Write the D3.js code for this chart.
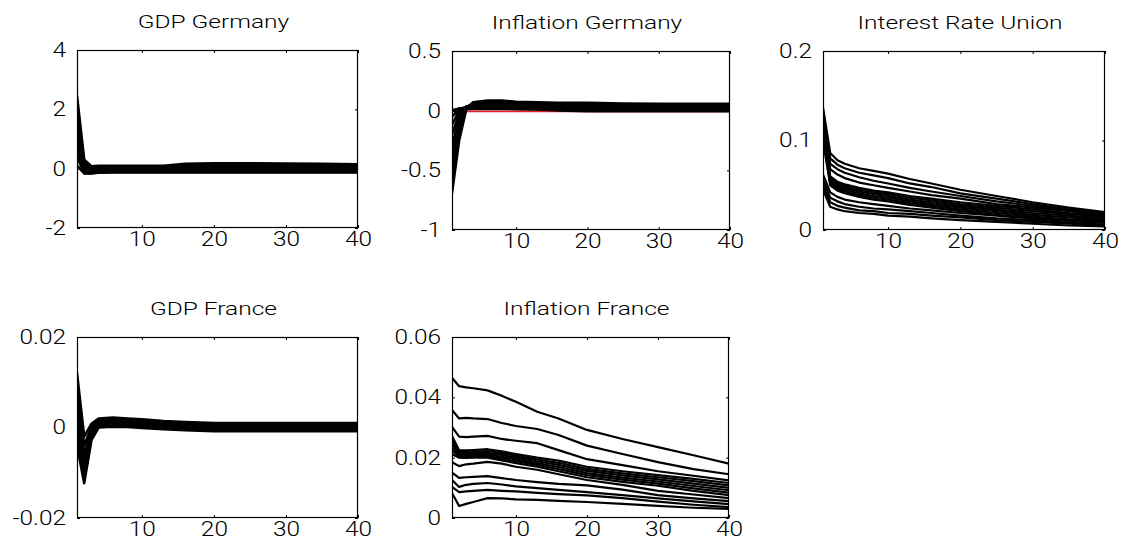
<!DOCTYPE html>
<html><head><meta charset="utf-8">
<script src="https://cdn.jsdelivr.net/npm/d3@7"></script>
<style>body{margin:0;background:#fff} svg{display:block}</style>
</head><body><svg id="c" width="1126" height="557"></svg>
<script>
// ---- data ----
const periods = [1,2,3,4,6,8,10,13,16,20,25,30,35,40];
const xTicks = [10,20,30,40];
const xTickLabels = ["10","20","30","40"];

const gdpGermany = [
  [2.45, 0.30, 0.08, 0.10, 0.10, 0.10, 0.10, 0.10, 0.16, 0.18, 0.18, 0.17, 0.16, 0.15],
  [2.20, 0.20, 0.03, 0.07, 0.07, 0.07, 0.07, 0.07, 0.12, 0.13, 0.13, 0.13, 0.12, 0.12],
  [1.90, 0.10, -0.02, 0.04, 0.04, 0.04, 0.04, 0.04, 0.07, 0.08, 0.08, 0.08, 0.08, 0.08],
  [1.60, 0.02, -0.06, 0.01, 0.01, 0.01, 0.01, 0.01, 0.03, 0.04, 0.04, 0.04, 0.04, 0.04],
  [1.30, -0.05, -0.09, -0.03, -0.02, -0.02, -0.02, -0.02, -0.01, 0.00, 0.00, 0.00, 0.00, 0.00],
  [1.00, -0.10, -0.12, -0.06, -0.05, -0.05, -0.05, -0.05, -0.04, -0.04, -0.04, -0.04, -0.04, -0.04],
  [0.70, -0.13, -0.14, -0.09, -0.08, -0.08, -0.08, -0.08, -0.08, -0.08, -0.08, -0.08, -0.08, -0.08],
  [0.40, -0.15, -0.15, -0.12, -0.11, -0.11, -0.11, -0.11, -0.11, -0.11, -0.11, -0.11, -0.11, -0.11],
  [0.10, -0.16, -0.16, -0.14, -0.13, -0.13, -0.13, -0.13, -0.13, -0.13, -0.13, -0.13, -0.13, -0.13]
];
const gdpGermanyTicks = [-2,0,2,4];
const gdpGermanyLabels = ["-2","0","2","4"];

const inflationGermanyRed = [-0.006,-0.006,-0.006,-0.006,-0.006,-0.006,-0.006,-0.006,-0.006,-0.006,-0.006,-0.006,-0.006,-0.006];
const inflationGermany = [
  [-0.69, -0.25, 0.010, 0.070, 0.085, 0.085, 0.075, 0.070, 0.065, 0.065, 0.060, 0.058, 0.058, 0.058],
  [-0.60, -0.20, 0.020, 0.070, 0.075, 0.075, 0.068, 0.062, 0.058, 0.058, 0.054, 0.052, 0.052, 0.052],
  [-0.50, -0.15, 0.025, 0.065, 0.068, 0.066, 0.060, 0.055, 0.052, 0.052, 0.048, 0.046, 0.046, 0.046],
  [-0.40, -0.10, 0.030, 0.058, 0.060, 0.058, 0.053, 0.048, 0.046, 0.046, 0.042, 0.040, 0.040, 0.040],
  [-0.30, -0.06, 0.032, 0.050, 0.052, 0.050, 0.046, 0.042, 0.040, 0.040, 0.036, 0.034, 0.034, 0.034],
  [-0.20, -0.03, 0.034, 0.044, 0.045, 0.043, 0.040, 0.036, 0.034, 0.034, 0.030, 0.028, 0.028, 0.028],
  [-0.12, 0.000, 0.032, 0.038, 0.038, 0.036, 0.034, 0.030, 0.028, 0.028, 0.024, 0.022, 0.022, 0.022],
  [-0.05, 0.015, 0.028, 0.032, 0.031, 0.030, 0.028, 0.025, 0.022, 0.022, 0.018, 0.016, 0.016, 0.016],
  [0.000, 0.018, 0.024, 0.026, 0.025, 0.024, 0.022, 0.020, 0.016, 0.016, 0.012, 0.010, 0.010, 0.010],
  [0.000, 0.016, 0.018, 0.020, 0.019, 0.018, 0.017, 0.015, 0.010, 0.008, 0.006, 0.004, 0.004, 0.004],
  [0.000, 0.012, 0.014, 0.014, 0.014, 0.014, 0.013, 0.011, 0.002, -0.004, -0.004, -0.004, -0.004, -0.004]
];
const inflationGermanyTicks = [-1,-0.5,0,0.5];
const inflationGermanyLabels = ["-1","-0.5","0","0.5"];

const interestRateUnion = [
  [0.137, 0.086, 0.078, 0.074, 0.069, 0.066, 0.063, 0.057, 0.052, 0.045, 0.038, 0.031, 0.025, 0.020],
  [0.133, 0.080, 0.073, 0.069, 0.064, 0.061, 0.058, 0.052, 0.048, 0.041, 0.035, 0.029, 0.023, 0.019],
  [0.129, 0.074, 0.068, 0.064, 0.059, 0.055, 0.052, 0.047, 0.043, 0.038, 0.032, 0.027, 0.022, 0.018],
  [0.125, 0.068, 0.062, 0.058, 0.053, 0.050, 0.047, 0.043, 0.039, 0.035, 0.029, 0.025, 0.021, 0.017],
  [0.120, 0.060, 0.054, 0.051, 0.047, 0.044, 0.042, 0.038, 0.035, 0.031, 0.027, 0.023, 0.019, 0.016],
  [0.116, 0.058, 0.052, 0.049, 0.045, 0.042, 0.040, 0.036, 0.033, 0.029, 0.025, 0.021, 0.018, 0.015],
  [0.112, 0.056, 0.050, 0.047, 0.043, 0.040, 0.038, 0.034, 0.031, 0.027, 0.023, 0.019, 0.016, 0.013],
  [0.108, 0.054, 0.048, 0.045, 0.041, 0.038, 0.036, 0.032, 0.029, 0.025, 0.021, 0.017, 0.014, 0.011],
  [0.104, 0.052, 0.046, 0.043, 0.039, 0.036, 0.034, 0.030, 0.027, 0.023, 0.019, 0.015, 0.012, 0.010],
  [0.100, 0.050, 0.044, 0.041, 0.037, 0.034, 0.032, 0.028, 0.025, 0.021, 0.017, 0.013, 0.011, 0.009],
  [0.062, 0.042, 0.037, 0.034, 0.031, 0.029, 0.027, 0.024, 0.022, 0.019, 0.016, 0.013, 0.010, 0.008],
  [0.056, 0.036, 0.032, 0.029, 0.026, 0.024, 0.023, 0.021, 0.019, 0.016, 0.013, 0.011, 0.008, 0.006],
  [0.050, 0.031, 0.027, 0.025, 0.022, 0.021, 0.019, 0.018, 0.016, 0.014, 0.011, 0.009, 0.007, 0.005],
  [0.045, 0.026, 0.023, 0.021, 0.019, 0.018, 0.016, 0.015, 0.013, 0.011, 0.009, 0.007, 0.005, 0.004]
];
const interestRateTicks = [0,0.1,0.2];
const interestRateLabels = ["0","0.1","0.2"];

const gdpFrance = [
  [0.012, -0.002, 0.0008, 0.0020, 0.0022, 0.0020, 0.0018, 0.0014, 0.0012, 0.0010, 0.0010, 0.0010, 0.0010, 0.0010],
  [0.010, -0.004, 0.0002, 0.0017, 0.0019, 0.0017, 0.0014, 0.0011, 0.0009, 0.0007, 0.0007, 0.0007, 0.0007, 0.0007],
  [0.007, -0.006, -0.0004, 0.0014, 0.0016, 0.0014, 0.0011, 0.0008, 0.0006, 0.0004, 0.0004, 0.0004, 0.0004, 0.0004],
  [0.004, -0.008, -0.0010, 0.0011, 0.0013, 0.0011, 0.0008, 0.0005, 0.0003, 0.0001, 0.0001, 0.0001, 0.0001, 0.0001],
  [0.001, -0.010, -0.0016, 0.0008, 0.0010, 0.0008, 0.0005, 0.0002, 0.0000, -0.0002, -0.0002, -0.0002, -0.0002, -0.0002],
  [-0.002, -0.0115, -0.0022, 0.0004, 0.0006, 0.0005, 0.0002, -0.0001, -0.0003, -0.0005, -0.0005, -0.0005, -0.0005, -0.0005],
  [-0.004, -0.0123, -0.0028, 0.0000, 0.0002, 0.0001, -0.0001, -0.0004, -0.0006, -0.0008, -0.0008, -0.0008, -0.0008, -0.0008]
];
const gdpFranceTicks = [-0.02,0,0.02];
const gdpFranceLabels = ["-0.02","0","0.02"];

const inflationFrance = [
  [0.0465, 0.0437, 0.0433, 0.0430, 0.0423, 0.0405, 0.0385, 0.0352, 0.0330, 0.0292, 0.0262, 0.0235, 0.0208, 0.0180],
  [0.0358, 0.0330, 0.0332, 0.0330, 0.0328, 0.0315, 0.0305, 0.0295, 0.0275, 0.0240, 0.0212, 0.0185, 0.0162, 0.0145],
  [0.0302, 0.0270, 0.0268, 0.0270, 0.0272, 0.0262, 0.0256, 0.0248, 0.0225, 0.0195, 0.0175, 0.0155, 0.0140, 0.0125],
  [0.0272, 0.0225, 0.0224, 0.0225, 0.0228, 0.0221, 0.0212, 0.0200, 0.0190, 0.0170, 0.0155, 0.0142, 0.0130, 0.0116],
  [0.0260, 0.0220, 0.0219, 0.0220, 0.0222, 0.0215, 0.0206, 0.0194, 0.0183, 0.0163, 0.0148, 0.0135, 0.0122, 0.0108],
  [0.0248, 0.0215, 0.0214, 0.0215, 0.0216, 0.0209, 0.0200, 0.0188, 0.0176, 0.0156, 0.0141, 0.0128, 0.0114, 0.0100],
  [0.0236, 0.0210, 0.0209, 0.0210, 0.0210, 0.0203, 0.0194, 0.0182, 0.0169, 0.0149, 0.0134, 0.0121, 0.0106, 0.0092],
  [0.0224, 0.0205, 0.0204, 0.0205, 0.0205, 0.0197, 0.0188, 0.0176, 0.0162, 0.0142, 0.0127, 0.0114, 0.0098, 0.0084],
  [0.0212, 0.0200, 0.0199, 0.0200, 0.0200, 0.0191, 0.0182, 0.0170, 0.0155, 0.0135, 0.0120, 0.0107, 0.0090, 0.0076],
  [0.0185, 0.0172, 0.0178, 0.0180, 0.0186, 0.0180, 0.0170, 0.0160, 0.0145, 0.0126, 0.0110, 0.0090, 0.0078, 0.0066],
  [0.0150, 0.0133, 0.0135, 0.0136, 0.0139, 0.0132, 0.0126, 0.0119, 0.0113, 0.0108, 0.0094, 0.0076, 0.0065, 0.0056],
  [0.0126, 0.0103, 0.0110, 0.0113, 0.0116, 0.0111, 0.0105, 0.0099, 0.0093, 0.0086, 0.0076, 0.0065, 0.0055, 0.0046],
  [0.0103, 0.0086, 0.0088, 0.0090, 0.0093, 0.0090, 0.0088, 0.0083, 0.0079, 0.0075, 0.0066, 0.0054, 0.0044, 0.0036],
  [0.0083, 0.0040, 0.0047, 0.0053, 0.0066, 0.0065, 0.0062, 0.0060, 0.0057, 0.0053, 0.0047, 0.0040, 0.0034, 0.0030]
];
const inflationFranceTicks = [0,0.02,0.04,0.06];
const inflationFranceLabels = ["0","0.02","0.04","0.06"];

// ---- layout ----
const panels = [
  {title:"GDP Germany", box:{l:77,t:50,r:358,b:228}, y:[-2,4], ticks:gdpGermanyTicks, labels:gdpGermanyLabels, series:gdpGermany, sw:2.6},
  {title:"Inflation Germany", box:{l:452,t:51,r:730,b:230}, y:[-1,0.5], ticks:inflationGermanyTicks, labels:inflationGermanyLabels, series:inflationGermany, red:inflationGermanyRed, sw:2.6},
  {title:"Interest Rate Union", box:{l:823,t:51,r:1105,b:230}, y:[0,0.2], ticks:interestRateTicks, labels:interestRateLabels, series:interestRateUnion, sw:2.2},
  {title:"GDP France", box:{l:77,t:337,r:358,b:518}, y:[-0.02,0.02], ticks:gdpFranceTicks, labels:gdpFranceLabels, series:gdpFrance, sw:2.6},
  {title:"Inflation France", box:{l:452,t:337,r:729,b:518}, y:[0,0.06], ticks:inflationFranceTicks, labels:inflationFranceLabels, series:inflationFrance, sw:2.2}
];

const FONT = "Roboto, 'Liberation Sans', Arial, sans-serif";
const svg = d3.select("#c");

function stretch(sel, k){
  sel.each(function(){
    const len = this.getComputedTextLength();
    if (len > 0) { this.setAttribute("textLength", len*k); this.setAttribute("lengthAdjust","spacingAndGlyphs"); }
  });
}

panels.forEach(p => {
  const {l,t,r,b} = p.box;
  const x = d3.scaleLinear().domain([1,40]).range([l,r]);
  const y = d3.scaleLinear().domain(p.y).range([b,t]);
  const g = svg.append("g");

  const line = d3.line().x((d,i)=>x(periods[i])).y(d=>y(d));
  const clipId = "clip" + l + "_" + t;
  g.append("clipPath").attr("id", clipId).append("rect")
    .attr("x", l).attr("y", t).attr("width", r-l).attr("height", b-t);
  const lines = g.append("g").attr("clip-path", `url(#${clipId})`);
  if (p.red) {
    lines.append("path").datum(p.red).attr("d", line)
      .attr("fill","none").attr("stroke","#e8202a").attr("stroke-width",1.6);
  }
  lines.selectAll("path.s").data(p.series).join("path").attr("class","s")
    .attr("d", line).attr("fill","none").attr("stroke","#000")
    .attr("stroke-width",p.sw).attr("stroke-linejoin","round");

  // axes
  const bottom = g.append("g").attr("transform",`translate(0,${b})`)
    .call(d3.axisBottom(x).tickValues(xTicks).tickFormat((d,i)=>xTickLabels[i]).tickSizeInner(-3).tickSizeOuter(0).tickPadding(4));
  const top = g.append("g").attr("transform",`translate(0,${t})`)
    .call(d3.axisTop(x).tickValues(xTicks).tickFormat("").tickSizeInner(-3).tickSizeOuter(0));
  const left = g.append("g").attr("transform",`translate(${l},0)`)
    .call(d3.axisLeft(y).tickValues(p.ticks).tickFormat((d,i)=>p.labels[i]).tickSizeInner(-3).tickSizeOuter(0).tickPadding(11));
  const right = g.append("g").attr("transform",`translate(${r},0)`)
    .call(d3.axisRight(y).tickValues(p.ticks).tickFormat("").tickSizeInner(-3).tickSizeOuter(0));
  [bottom, top, left, right].forEach(a => {
    a.select(".domain").remove();
    a.selectAll("line").attr("stroke","#000");
    a.selectAll("text").attr("fill","#000").style("font-family",FONT)
      .style("font-size","20px").style("font-weight","300");
  });
  stretch(bottom.selectAll("text"), 1.22);
  stretch(left.selectAll("text"), 1.22);

  g.append("rect").attr("x",l+0.5).attr("y",t+0.5).attr("width",r-l-1).attr("height",b-t-1)
    .attr("fill","none").attr("stroke","#000").attr("stroke-width",1.2);

  const title = g.append("text").attr("x",(l+r)/2 - 4).attr("y", t - 22)
    .attr("text-anchor","middle").attr("fill","#000")
    .style("font-family",FONT).style("font-size","18px").style("font-weight","300").text(p.title);
  stretch(title, 1.36);
});
</script>
</body></html>
